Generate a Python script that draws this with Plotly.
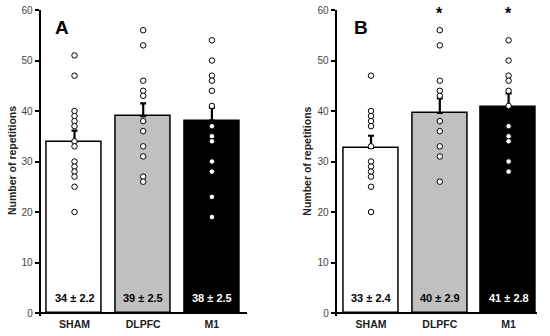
import plotly.graph_objects as go

groups = ["SHAM", "DLPFC", "M1"]
bar_colors = ["#ffffff", "#c0c0c0", "#000000"]
label_colors = ["#000000", "#000000", "#ffffff"]

# Panel A
a_means = [33.9, 39.0, 38.1]
a_sem = [2.2, 2.5, 2.5]
a_labels = ["34 ± 2.2", "39 ± 2.5", "38 ± 2.5"]
a_sham = [51, 47, 40, 39, 38, 37, 34, 33, 30, 29, 28, 27, 25, 20]
a_dlpfc = [56, 53, 46, 44, 43, 38, 36, 33, 31, 27, 26]
a_m1 = [54, 50, 47, 46, 44, 41, 37, 35, 34, 30, 28, 23, 19]

# Panel B
b_means = [32.7, 39.6, 40.7]
b_sem = [2.4, 2.9, 2.8]
b_labels = ["33 ± 2.4", "40 ± 2.9", "41 ± 2.8"]
b_sham = [47, 40, 39, 38, 37, 33, 30, 29, 28, 27, 25, 20]
b_dlpfc = [56, 53, 46, 44, 43, 38, 36, 33, 31, 26]
b_m1 = [54, 50, 47, 46, 44, 41, 37, 35, 34, 30, 28]
b_sig = ["", "*", "*"]

y_ticks = [0, 10, 20, 30, 40, 50, 60]
y_ticktext = [str(v) for v in y_ticks]

W, H = 550, 336
YMIN, YMAX = -0.6, 60
PX_PER_UNIT = (313 - 10) / 60.0


def fx(px):
    return px / W


def fy(py):
    return 1 - py / H


fig = go.Figure()

panels = [
    dict(xa="x", ya="y", means=a_means, sem=a_sem, labels=a_labels,
         pts=[a_sham, a_dlpfc, a_m1], sig=["", "", ""]),
    dict(xa="x2", ya="y2", means=b_means, sem=b_sem, labels=b_labels,
         pts=[b_sham, b_dlpfc, b_m1], sig=b_sig),
]

xpos = [0, 1, 2]
for p in panels:
    fig.add_trace(go.Bar(
        x=xpos, y=p["means"], width=0.8,
        marker=dict(color=bar_colors, line=dict(color="black", width=1.5)),
        error_y=dict(type="data", symmetric=False, array=p["sem"],
                     arrayminus=[0, 0, 0], color="black", thickness=2.2, width=3),
        xaxis=p["xa"], yaxis=p["ya"], showlegend=False, hoverinfo="skip"))
    for i, vals in enumerate(p["pts"]):
        fig.add_trace(go.Scatter(
            x=[xpos[i]] * len(vals), y=vals, mode="markers",
            marker=dict(symbol="circle", size=5.5, color="white",
                        line=dict(color="black", width=1)),
            xaxis=p["xa"], yaxis=p["ya"], showlegend=False, hoverinfo="skip"))
    for i, t in enumerate(p["labels"]):
        fig.add_annotation(x=xpos[i], y=2.9, xref=p["xa"], yref=p["ya"],
                           text="<b>" + t + "</b>", showarrow=False,
                           xanchor="center", yanchor="middle",
                           font=dict(family="Liberation Sans Narrow, Arial Narrow, Liberation Sans, Arial",
                                     size=11, color=label_colors[i]))
    for i, s in enumerate(p["sig"]):
        if s:
            fig.add_annotation(x=xpos[i], y=fy(3), xref=p["xa"], yref="paper",
                               text="<b>" + s + "</b>", showarrow=False,
                               xanchor="center", yanchor="top",
                               font=dict(family="Liberation Sans, Arial", size=16, color="black"))
    # baseline (x-axis line) at y = 0
    fig.add_shape(type="line", xref=p["xa"] + " domain", yref=p["ya"],
                  x0=0, x1=1, y0=0, y1=0, line=dict(color="black", width=2))

axis_font = dict(family="Liberation Sans, Arial", size=10, color="#444444")
common_y = dict(tickmode="array", tickvals=y_ticks, ticktext=y_ticktext, range=[YMIN, YMAX],
                showgrid=False, zeroline=False,
                showline=True, linecolor="black", linewidth=2, ticks="outside",
                ticklen=4, tickwidth=1.5, tickcolor="black", tickfont=axis_font,
                ticklabeloverflow="allow", automargin=False)
common_x = dict(tickvals=xpos, ticktext=["<b>" + g + "</b>" for g in groups],
                showgrid=False, zeroline=False, showline=False,
                ticks="", tickfont=dict(family="Liberation Sans, Arial", size=10.5, color="#222222"),
                ticklabeloverflow="allow", automargin=False)

y_bottom_px = 313 - YMIN * PX_PER_UNIT
y_dom = [fy(y_bottom_px), fy(10)]
fig.update_layout(
    width=W, height=H, margin=dict(l=0, r=0, t=0, b=0),
    paper_bgcolor="white", plot_bgcolor="rgba(0,0,0,0)",
    bargap=0,
    xaxis=dict(domain=[fx(40.7), fx(247)], range=[-0.492, 2.511], anchor="y", **common_x),
    yaxis=dict(domain=y_dom, anchor="x", **common_y),
    xaxis2=dict(domain=[fx(336.7), fx(537)], range=[-0.499, 2.413], anchor="y2", **common_x),
    yaxis2=dict(domain=y_dom, anchor="x2", **common_y),
)

# panel letters
for lx, letter in [(61.7, "A"), (361, "B")]:
    fig.add_annotation(x=fx(lx), y=fy(27.7), xref="paper", yref="paper", text="<b>" + letter + "</b>",
                       showarrow=False, xanchor="center", yanchor="middle",
                       font=dict(family="Liberation Sans, Arial", size=19, color="black"))
# y-axis titles
for xp in [12, 306.7]:
    fig.add_annotation(x=fx(xp), y=fy(161), xref="paper", yref="paper",
                       text="<b>Number of repetitions</b>", textangle=-90, showarrow=False,
                       xanchor="center", yanchor="middle",
                       font=dict(family="Liberation Sans, Arial", size=10.5, color="#222222"))

fig.write_html("out.html", config={"displayModeBar": False},
               post_script="document.body.style.margin='0';document.body.style.overflow='hidden';")
